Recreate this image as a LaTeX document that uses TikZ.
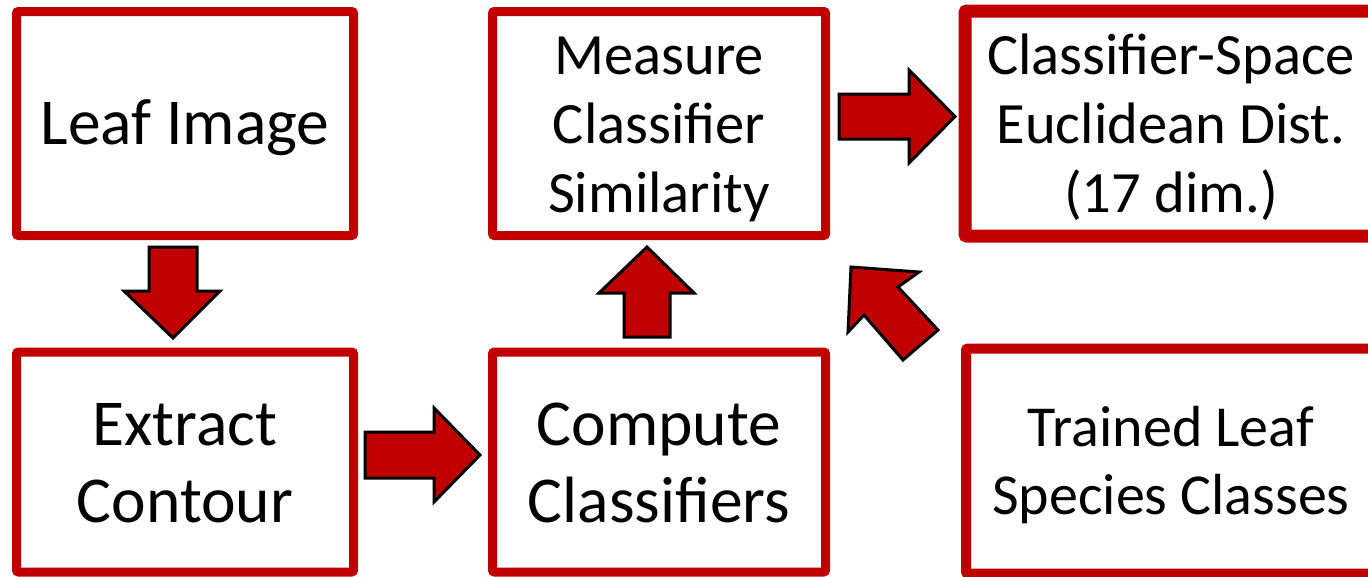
\documentclass[tikz,border=0pt]{standalone}
\usepackage{fontspec}
\setmainfont{Carlito}
\definecolor{dred}{HTML}{C00000}
\begin{document}
\begin{tikzpicture}[x=1pt,y=-1pt,
  box/.style={draw=dred, line width=9pt, rounded corners=2pt, fill=white, inner sep=0pt},
  txt/.style={inner sep=0pt, align=center, text=black},
  big/.style={font=\fontsize{65.5}{77}\selectfont},
  mid/.style={font=\fontsize{58.5}{69}\selectfont},
  blk/.style={fill=dred, draw=black, line width=3pt, line join=miter}]
\useasboundingbox (0,0) rectangle (1368,576);
\node[box, minimum width=337pt, minimum height=224pt] (leaf) at (185,123.5) {};
\node[box, minimum width=333pt, minimum height=224pt] (measure) at (659,123.5) {};
\node[box, line width=13pt, minimum width=412pt, minimum height=225pt] (dist) at (1171,123.5) {};
\node[box, minimum width=337pt, minimum height=220pt] (extract) at (185,462) {};
\node[box, minimum width=333pt, minimum height=220pt] (compute) at (659,462) {};
\node[box, line width=10pt, minimum width=410pt, minimum height=225pt] (trained) at (1171,461) {};
% texts
\node[txt, big] (leaft) at ([yshift=-4pt]leaf.center) {Leaf Image};
\node[txt, mid] (measuret) at ([yshift=-6pt]measure.center) {Measure\\Classifier\\Similarity};
\node[txt, mid] (distt) at ([yshift=-4pt]dist.center) {Classifier-Space\\Euclidean Dist.\\(17 dim.)};
\node[txt, big] (extractt) at ([yshift=-1pt]extract.center) {Extract\\Contour};
\node[txt, big] (computet) at ([yshift=-1pt]compute.center) {Compute\\Classifiers};
\node[txt, font=\fontsize{58}{68}\selectfont] (trainedt) at ([yshift=-4pt]trained.center) {Trained Leaf\\Species Classes};
% block arrows
\draw[blk] (149,247) -- (197,247) -- (197,291) -- (220,291) -- (173,338) -- (124,291) -- (149,291) -- cycle;
\draw[blk] (365,432) -- (434,432) -- (434,408) -- (480,455) -- (434,502) -- (434,478) -- (365,478) -- cycle;
\draw[blk] (647,247) -- (694,293) -- (670,293) -- (670,337) -- (624,337) -- (624,293) -- (599,293) -- cycle;
\draw[blk] (839,94) -- (909,94) -- (909,70) -- (955,116.5) -- (909,163) -- (909,139) -- (839,139) -- cycle;
\draw[blk] (851,267) -- (919,272) -- (898,287) -- (938,330) -- (903,360) -- (864,315) -- (848,332) -- cycle;
\end{tikzpicture}
\end{document}
